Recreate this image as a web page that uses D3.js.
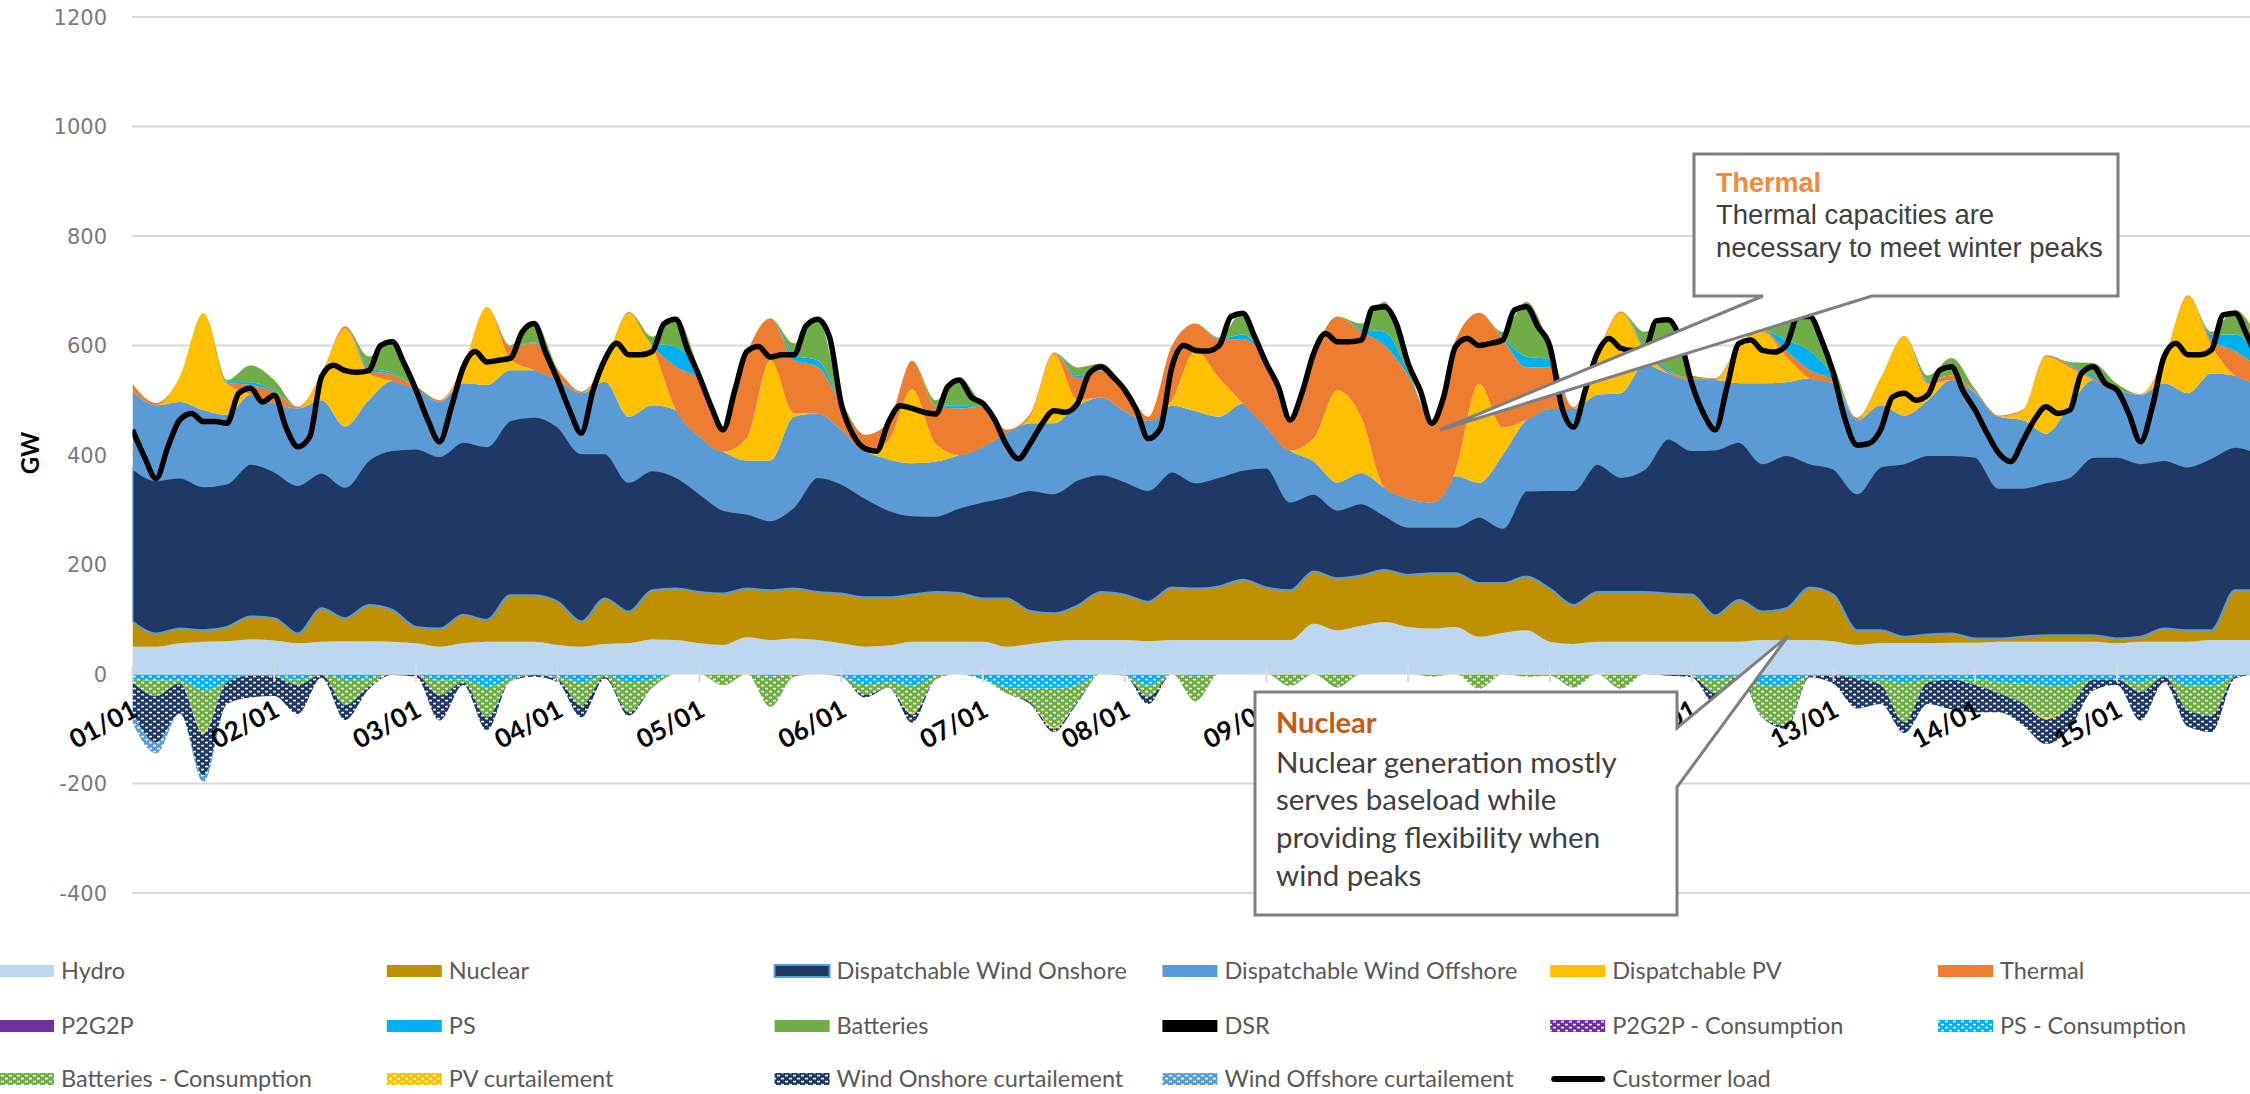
<!DOCTYPE html>
<html>
<head>
<meta charset="utf-8">
<script src="https://cdn.jsdelivr.net/npm/d3@7"></script>
<style>
  html, body { margin: 0; padding: 0; background: #fff; overflow: hidden; }
  svg { display: block; }
</style>
</head>
<body>
<svg id="chart" width="2250" height="1094"></svg>
<script>
// ---------------- data ----------------
// generation / consumption sampled every 4 hours from 01/01 00:00 (GW)
const hours4 = d3.range(0, 361, 4);
// customer load sampled every 2 hours (GW)
const hours2 = d3.range(0, 361, 2);

const dayLabels = ["01/01","02/01","03/01","04/01","05/01","06/01","07/01","08/01",
                   "09/01","10/01","11/01","12/01","13/01","14/01","15/01"];
const yTicks = [-400, -200, 0, 200, 400, 600, 800, 1000, 1200];

const hydro = [
  50,50,56,59,60,63,61,56,59,60,60,59,56,50,56,59,59,59,53,50,55,56,63,62,56,53,67,62,65,62,
  56,50,52,59,59,59,59,50,55,60,62,62,62,60,62,62,62,62,62,62,92,80,88,95,86,83,86,68,75,80,
  59,55,59,59,59,59,59,59,59,62,62,62,60,53,56,56,56,57,57,59,59,59,59,59,56,59,59,59,62,62,62];
const nuclear = [
  46,24,27,21,26,42,41,18,61,42,66,58,30,33,52,40,85,85,79,46,83,58,90,94,94,94,89,91,91,88,
  91,90,88,86,91,89,79,88,60,51,63,88,83,72,96,94,98,110,96,91,95,95,92,95,95,101,98,98,91,98,
  97,71,91,91,91,88,86,48,76,52,58,96,85,27,24,12,16,17,8,6,9,12,12,12,9,9,24,21,18,91,91];
const windOnshore = [
  280,280,276,263,262,279,268,271,248,240,265,292,326,315,316,317,320,326,320,307,265,237,219,204,180,153,137,128,150,210,
  201,182,160,145,139,156,177,186,221,219,230,215,207,204,212,194,200,201,219,162,142,125,132,100,88,85,85,121,101,157,
  180,210,234,210,224,283,264,303,289,271,280,227,230,250,299,317,328,326,332,275,272,279,289,326,332,317,308,299,315,262,250];
const windOffshore = [
  140,137,138,139,125,126,124,140,132,110,109,126,107,99,107,112,91,85,85,110,131,119,119,122,103,106,97,109,164,116,
  98,86,92,95,99,96,100,116,122,128,135,140,128,126,120,130,110,121,73,93,59,50,55,50,51,44,92,62,133,129,
  148,148,126,153,191,119,128,127,107,146,133,155,155,134,112,87,100,137,116,130,124,89,130,140,122,125,140,134,154,130,128];
const pv = [
  0,0,46,177,57,0,0,0,49,179,49,0,0,0,30,143,20,0,0,0,36,189,107,0,0,0,40,183,6,0,
  0,0,35,135,32,0,0,0,12,127,10,0,0,0,10,110,70,0,0,0,42,168,103,0,0,0,9,181,50,0,
  0,0,70,147,25,0,0,0,69,94,47,0,0,0,49,146,30,0,0,0,16,141,70,0,0,0,44,177,51,0,0];
const thermal = [
  12,4,0,0,2,18,21,3,0,4,6,12,6,3,2,0,23,49,18,3,0,2,2,79,104,46,156,77,97,85,
  48,29,33,52,68,85,73,6,5,2,40,50,45,8,100,50,70,118,120,54,155,135,155,260,225,151,240,130,162,96,
  76,3,5,2,5,3,3,3,2,3,10,15,5,4,1,0,5,8,2,2,2,2,5,3,2,1,2,2,10,45,29];
const ps = [
  0,0,0,0,2,5,3,0,0,0,5,3,0,0,0,0,0,2,0,0,0,0,5,37,12,0,0,0,9,12,
  3,0,0,0,2,5,0,0,0,0,5,2,0,0,0,0,2,8,0,0,0,0,5,25,7,0,0,0,3,20,
  15,0,0,0,5,4,0,0,0,0,20,35,10,0,0,0,2,0,0,0,0,0,2,5,0,0,0,0,10,30,20];
const batteries = [
  2,0,0,0,3,31,19,0,0,0,20,59,0,0,0,0,2,39,2,0,0,0,11,54,6,0,0,0,22,77,
  3,0,0,0,10,50,2,0,0,0,15,10,0,0,0,0,2,42,0,0,0,0,10,55,8,0,0,0,10,100,
  25,0,0,0,25,94,5,0,0,0,30,65,20,0,0,0,8,32,5,0,0,0,3,23,9,0,0,0,5,45,30];

// consumption and curtailment (GW, drawn below zero)
const psConsumption = [
  10,12,12,30,15,3,5,10,2,9,8,0,2,12,10,24,8,2,5,15,3,15,10,0,0,0,0,5,0,0,
  5,20,15,21,5,0,10,25,27,27,20,0,3,21,0,5,0,0,0,0,0,0,0,0,0,0,0,0,0,0,
  0,0,0,0,0,0,3,10,3,20,20,3,3,8,10,15,10,10,10,15,18,20,20,10,10,15,5,21,21,5,0];
const batteriesConsumption = [
  5,28,5,76,0,0,0,10,0,48,15,0,0,27,5,55,5,0,5,43,2,55,15,0,0,21,0,55,5,0,
  0,18,10,50,5,0,0,10,25,70,30,0,0,21,0,45,0,0,0,22,0,25,0,0,0,5,0,27,0,5,
  3,25,0,27,0,0,0,25,0,60,75,0,0,0,10,73,5,0,10,20,35,60,40,0,0,18,0,45,55,0,0];
const pvCurtailment = [
  0,0,0,3,0,0,0,0,0,0,0,0,0,0,0,0,0,0,0,0,0,0,0,0,0,0,0,0,0,0,
  0,0,0,3,0,0,0,0,0,3,0,0,0,0,0,0,0,0,0,0,0,0,0,0,0,0,0,0,0,0,
  0,0,0,0,0,0,0,0,0,0,0,0,0,0,0,0,0,0,0,0,0,3,0,0,0,0,0,0,0,0,0];
const windOnshoreCurtailment = [
  55,85,55,77,40,40,35,53,5,27,5,2,3,46,5,24,0,3,5,21,3,6,0,0,0,0,0,0,0,0,
  0,5,0,15,0,0,0,0,3,6,3,0,0,13,0,0,0,0,0,0,0,0,0,0,0,0,0,0,0,0,
  0,0,0,0,0,3,3,20,0,0,5,3,15,55,35,20,40,55,50,35,40,45,40,20,10,52,10,30,30,3,0];
const windOffshoreCurtailment = [
  20,20,0,12,0,0,0,0,0,0,0,0,0,0,0,0,0,0,0,0,0,0,0,0,0,0,0,0,0,0,
  0,0,0,0,0,0,0,0,0,0,0,0,0,0,0,0,0,0,0,0,0,0,0,0,0,0,0,0,0,0,
  0,0,0,0,0,0,0,0,0,0,0,0,0,0,0,0,0,0,0,0,0,0,0,0,0,0,0,0,0,0,0];

const customerLoad = [
  446,397,357,415,464,476,461,461,458,513,522,497,
  509,450,415,433,543,564,554,551,554,600,607,567,
  519,464,424,488,560,589,570,573,577,625,640,586,
  537,482,440,519,575,604,583,583,589,640,648,592,
  543,488,446,519,589,598,579,583,583,635,648,616,
  494,437,412,407,460,490,485,478,475,524,537,506,
  494,464,418,393,421,457,481,478,494,549,561,543,
  519,482,430,448,561,600,591,590,600,653,659,616,
  567,525,464,513,586,622,607,607,610,668,671,640,
  567,519,458,506,598,613,600,604,610,665,671,634,
  598,488,451,519,585,613,595,591,591,645,647,613,
  531,476,446,525,604,610,591,588,600,653,653,610,
  549,464,418,421,446,506,513,500,510,555,561,516,
  482,440,403,388,424,464,488,476,482,549,561,531,
  519,476,424,488,580,604,583,583,592,656,659,619,
  567];

// ---------------- layout ----------------
const svg = d3.select("#chart");
const W = 2250, H = 1094;
const plotLeft = 132.5, pxPerHour = 5.906;
const x = d3.scaleLinear().domain([0, 360]).range([plotLeft, plotLeft + 360 * pxPerHour]);
const y = d3.scaleLinear().domain([-400, 1200]).range([893, 17]);

const COLORS = {
  hydro: "#BDD7EE", nuclear: "#BF9000", windOn: "#203864", windOff: "#5B9BD5",
  pv: "#FFC000", thermal: "#ED7D31", p2g2p: "#7030A0", ps: "#00B0F0",
  batteries: "#70AD47", dsr: "#000000"
};

svg.append("rect").attr("width", W).attr("height", H).attr("fill", "#fff");
const defs = svg.append("defs");

// dotted fills used for consumption / curtailment
function dotted(id, color) {
  const p = defs.append("pattern").attr("id", id)
    .attr("patternUnits", "userSpaceOnUse").attr("width", 8).attr("height", 6);
  p.append("rect").attr("width", 8).attr("height", 6).attr("fill", color);
  p.append("rect").attr("x", 1).attr("y", 0.8).attr("width", 3).attr("height", 1.6).attr("fill", "#fff");
  p.append("rect").attr("x", 5).attr("y", 3.8).attr("width", 3).attr("height", 1.6).attr("fill", "#fff");
}
dotted("pat-p2g2p", COLORS.p2g2p);
dotted("pat-ps", COLORS.ps);
dotted("pat-bat", COLORS.batteries);
dotted("pat-pv", COLORS.pv);
dotted("pat-won", COLORS.windOn);
dotted("pat-woff", COLORS.windOff);

defs.append("clipPath").attr("id", "plotClip")
  .append("rect").attr("x", plotLeft).attr("y", 0).attr("width", W - plotLeft).attr("height", 900);

// gridlines
svg.append("g").selectAll("line").data(yTicks.filter(v => v !== 0)).join("line")
  .attr("x1", 132).attr("x2", W).attr("y1", d => y(d)).attr("y2", d => y(d))
  .attr("stroke", "#d9d9d9").attr("stroke-width", 2);

// ---------------- stacked areas ----------------
const rows = hours4.map((h, i) => ({
  h,
  hydro: hydro[i], nuclear: nuclear[i], windOn: windOnshore[i], windOff: windOffshore[i],
  pv: pv[i], thermal: thermal[i], ps: ps[i], batteries: batteries[i],
  psCons: psConsumption[i], batCons: batteriesConsumption[i], pvCurt: pvCurtailment[i],
  wonCurt: windOnshoreCurtailment[i], woffCurt: windOffshoreCurtailment[i]
}));

const posKeys = ["hydro", "nuclear", "windOn", "windOff", "pv", "thermal", "ps", "batteries"];
const negKeys = ["psCons", "batCons", "pvCurt", "wonCurt", "woffCurt"];
const posFill = {
  hydro: COLORS.hydro, nuclear: COLORS.nuclear, windOn: COLORS.windOn, windOff: COLORS.windOff,
  pv: COLORS.pv, thermal: COLORS.thermal, ps: COLORS.ps, batteries: COLORS.batteries
};
const negFill = {
  psCons: "url(#pat-ps)", batCons: "url(#pat-bat)", pvCurt: "url(#pat-pv)",
  wonCurt: "url(#pat-won)", woffCurt: "url(#pat-woff)"
};

const posStack = d3.stack().keys(posKeys)(rows);
const negStack = d3.stack().keys(negKeys).value((d, k) => -d[k])(rows);

const area = d3.area()
  .x(d => x(d.data.h)).y0(d => y(d[0])).y1(d => y(d[1]))
  .curve(d3.curveMonotoneX);

const plot = svg.append("g").attr("clip-path", "url(#plotClip)");

plot.append("g").selectAll("path").data(negStack).join("path")
  .attr("d", area).attr("fill", d => negFill[d.key]);

plot.append("g").selectAll("path").data(posStack).join("path")
  .attr("d", area).attr("fill", d => posFill[d.key])
  .attr("stroke", d => d.key === "windOn" ? COLORS.windOff : "none")
  .attr("stroke-width", d => d.key === "windOn" ? 2 : 0);

// zero axis with daily ticks
svg.append("line").attr("x1", 132).attr("x2", W).attr("y1", y(0)).attr("y2", y(0))
  .attr("stroke", "#d9d9d9").attr("stroke-width", 1.5);
svg.append("g").selectAll("line").data(d3.range(0, 16)).join("line")
  .attr("x1", d => x(d * 24)).attr("x2", d => x(d * 24))
  .attr("y1", y(0) - 8).attr("y2", y(0) + 8)
  .attr("stroke", "#d9d9d9").attr("stroke-width", 2);

// customer load
const line = d3.line().x((d, i) => x(hours2[i])).y(d => y(d)).curve(d3.curveMonotoneX);
plot.append("path").datum(customerLoad).attr("d", line)
  .attr("fill", "none").attr("stroke", "#000").attr("stroke-width", 5.5)
  .attr("stroke-linejoin", "round");

// ---------------- axes text ----------------
svg.append("g").selectAll("text").data(yTicks).join("text")
  .attr("x", 107).attr("y", d => y(d)).attr("dy", "0.36em")
  .attr("text-anchor", "end")
  .style("font-family", "'DejaVu Sans', sans-serif").style("font-size", "21px")
  .attr("fill", "#7a7a7a").text(d => d);

svg.append("text").attr("transform", "translate(39,453) rotate(-90)")
  .attr("text-anchor", "middle")
  .style("font-family", "Lato, sans-serif").style("font-size", "24px").style("font-weight", 700)
  .attr("fill", "#000").text("GW");

svg.append("g").selectAll("text").data(dayLabels).join("text")
  .attr("transform", (d, i) => `translate(${x(i * 24) - 2},${y(0) + 24}) rotate(-28)`)
  .attr("dy", "0.75em").attr("text-anchor", "end")
  .style("font-family", "Lato, sans-serif").style("font-size", "26px").style("font-weight", 700)
  .attr("fill", "#000").text(d => d);

// ---------------- callouts ----------------
const callout = svg.append("g");
callout.append("path")
  .attr("d", "M1694,154 L2118,154 L2118,296 L1872,296 L1440,430 L1763,296 L1694,296 Z")
  .attr("fill", "#fff").attr("stroke", "#7f7f7f").attr("stroke-width", 3).attr("stroke-linejoin", "miter");
callout.append("text").attr("x", 1716).attr("y", 192)
  .style("font-family", "'Liberation Sans', Arial, sans-serif").style("font-size", "27px").style("font-weight", 700)
  .attr("fill", "#F58B3A").text("Thermal");
[["Thermal capacities are", 224], ["necessary to meet winter peaks", 257]].forEach(([t, yy]) => {
  callout.append("text").attr("x", 1716).attr("y", yy)
    .style("font-family", "'Liberation Sans', Arial, sans-serif").style("font-size", "27.5px")
    .attr("fill", "#404040").text(t);
});

callout.append("path")
  .attr("d", "M1255,692 L1677,692 L1677,728 L1788,636 L1677,787 L1677,915 L1255,915 Z")
  .attr("fill", "#fff").attr("stroke", "#7f7f7f").attr("stroke-width", 3).attr("stroke-linejoin", "miter");
callout.append("text").attr("x", 1276).attr("y", 733)
  .style("font-family", "Lato, sans-serif").style("font-size", "29px").style("font-weight", 700)
  .attr("fill", "#C55A11").text("Nuclear");
[["Nuclear generation mostly", 773], ["serves baseload while", 810],
 ["providing flexibility when", 848], ["wind peaks", 886]].forEach(([t, yy]) => {
  callout.append("text").attr("x", 1276).attr("y", yy)
    .style("font-family", "Lato, sans-serif").style("font-size", "29.5px")
    .attr("fill", "#404040").text(t);
});

// ---------------- legend ----------------
const legendItems = [
  { name: "Hydro", fill: COLORS.hydro },
  { name: "Nuclear", fill: COLORS.nuclear },
  { name: "Dispatchable Wind Onshore", fill: COLORS.windOn, stroke: COLORS.windOff },
  { name: "Dispatchable Wind Offshore", fill: COLORS.windOff },
  { name: "Dispatchable PV", fill: COLORS.pv },
  { name: "Thermal", fill: COLORS.thermal },
  { name: "P2G2P", fill: COLORS.p2g2p },
  { name: "PS", fill: COLORS.ps },
  { name: "Batteries", fill: COLORS.batteries },
  { name: "DSR", fill: COLORS.dsr },
  { name: "P2G2P - Consumption", fill: "url(#pat-p2g2p)" },
  { name: "PS - Consumption", fill: "url(#pat-ps)" },
  { name: "Batteries - Consumption", fill: "url(#pat-bat)" },
  { name: "PV curtailement", fill: "url(#pat-pv)" },
  { name: "Wind Onshore curtailement", fill: "url(#pat-won)" },
  { name: "Wind Offshore curtailement", fill: "url(#pat-woff)" },
  { name: "Custormer load", line: true }
];
const legendX0 = -1, legendColW = 387.8, legendRows = [971, 1026, 1079];
const legend = svg.append("g");
legendItems.forEach((it, i) => {
  const col = i % 6, row = Math.floor(i / 6);
  const sx = legendX0 + col * legendColW, cy = legendRows[row];
  const g = legend.append("g");
  if (it.line) {
    g.append("line").attr("x1", sx + 4).attr("x2", sx + 52).attr("y1", cy).attr("y2", cy)
      .attr("stroke", "#000").attr("stroke-width", 6).attr("stroke-linecap", "round");
  } else {
    g.append("rect").attr("x", sx).attr("y", cy - 6).attr("width", 55).attr("height", 12)
      .attr("fill", it.fill)
      .attr("stroke", it.stroke || "none").attr("stroke-width", it.stroke ? 2 : 0);
  }
  g.append("text").attr("x", sx + 62).attr("y", cy).attr("dy", "0.35em")
    .style("font-family", "Lato, sans-serif").style("font-size", "23.5px")
    .attr("fill", "#595959").text(it.name);
});
</script>
</body>
</html>
